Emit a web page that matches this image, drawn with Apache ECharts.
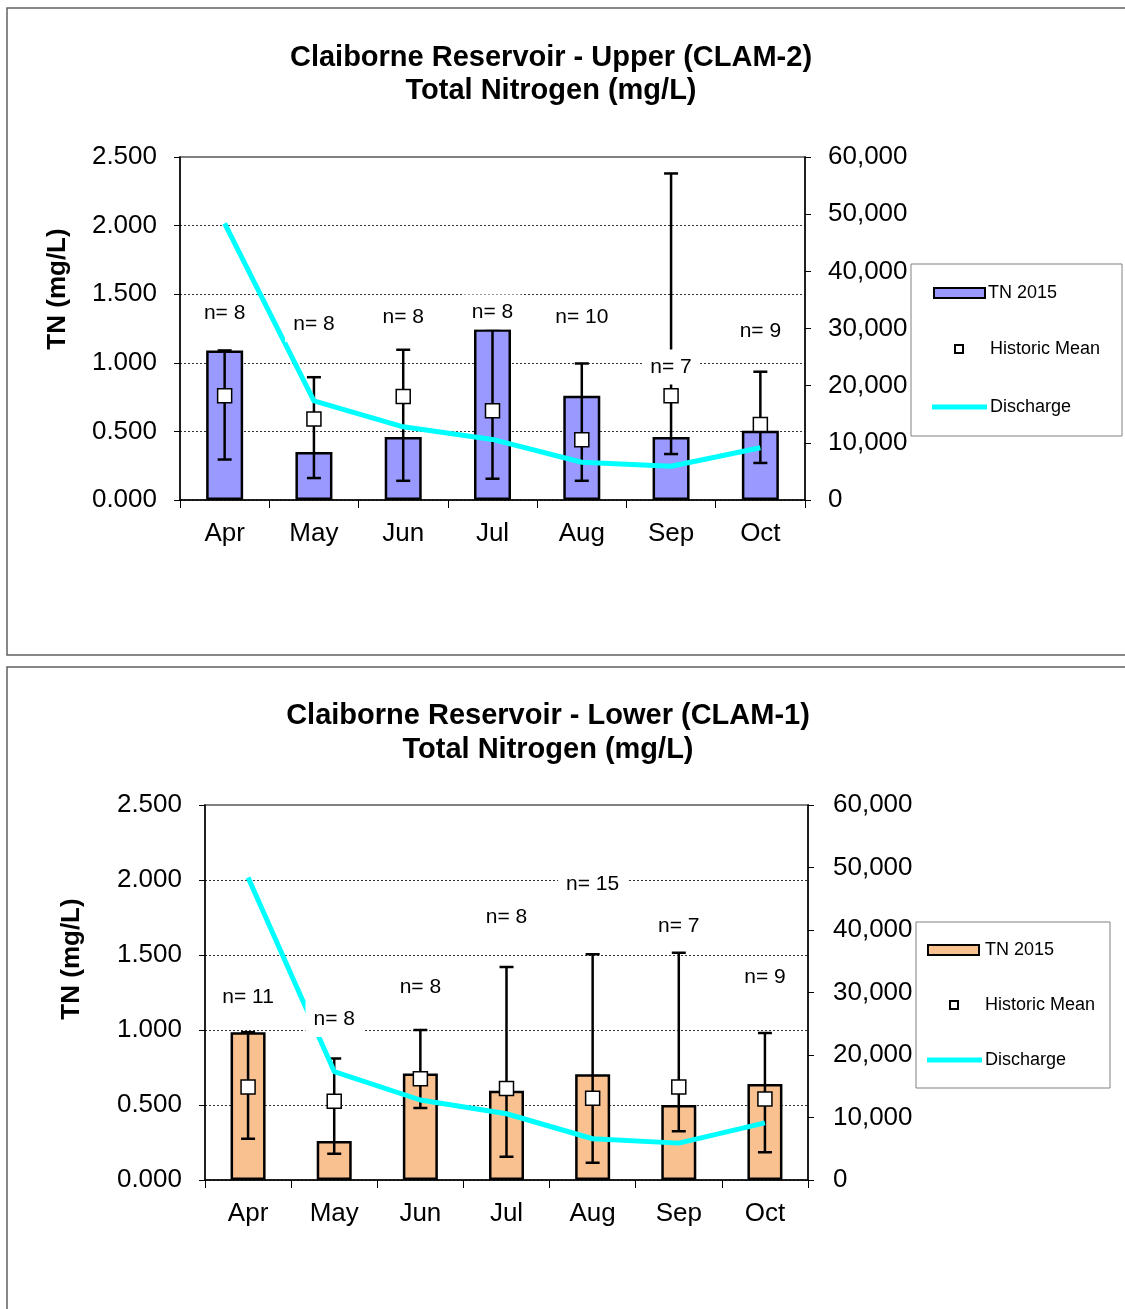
<!DOCTYPE html>
<html>
<head>
<meta charset="utf-8">
<script src="https://cdn.jsdelivr.net/npm/echarts@6/dist/echarts.min.js"></script>
<style>html,body{margin:0;padding:0;background:#fff;}#c{width:1125px;height:1309px;}</style>
</head>
<body>
<div id="c"></div>
<script>
const months = ['Apr','May','Jun','Jul','Aug','Sep','Oct'];
const discharge = [48400, 17350, 12800, 10600, 6600, 5900, 9150];

const upperTN2015 = [1.09, 0.35, 0.46, 1.245, 0.76, 0.46, 0.505];
const upperMin    = [0.295, 0.16, 0.14, 0.155, 0.14, 0.335, 0.27];
const upperMax    = [1.09, 0.895, 1.095, 1.245, 0.995, 2.38, 0.935];
const upperMean   = [0.76, 0.59, 0.755, 0.65, 0.44, 0.76, 0.55];
const upperN      = [8, 8, 8, 8, 10, 7, 9];

const lowerTN2015 = [0.985, 0.26, 0.71, 0.595, 0.705, 0.50, 0.64];
const lowerMin    = [0.275, 0.175, 0.48, 0.155, 0.115, 0.325, 0.185];
const lowerMax    = [0.985, 0.81, 1.0, 1.42, 1.505, 1.515, 0.98];
const lowerMean   = [0.62, 0.525, 0.675, 0.61, 0.545, 0.62, 0.54];
const lowerN      = [11, 8, 8, 8, 15, 7, 9];

const leftTicks = {min: 0, max: 2.5, interval: 0.5};
const rightTicks = {min: 0, max: 60000, interval: 10000};

// anchor (in mg/L) where each "n=" label sits
const upperNLabelAt = [1.36, 1.28, 1.335, 1.37, 1.335, 0.97, 1.23];
const lowerNLabelAt = [1.22, 1.07, 1.285, 1.75, 1.975, 1.695, 1.355];

const FONT = "'Liberation Sans', Arial, Helvetica, sans-serif";

function makeAxes(gi, leftMargin, rightMargin) {
  const x = {
    gridIndex: gi, type: 'category', data: months, boundaryGap: true,
    axisLine: {show: true, lineStyle: {color: '#000', width: 1.5}},
    axisTick: {show: true, length: 8, interval: 0, lineStyle: {color: '#000', width: 1}},
    axisLabel: {color: '#000', fontSize: 26, fontFamily: FONT, margin: 21, interval: 0},
    splitLine: {show: false}
  };
  const yl = {
    gridIndex: gi, type: 'value', position: 'left',
    min: leftTicks.min, max: leftTicks.max, interval: leftTicks.interval,
    axisLine: {show: true, lineStyle: {color: '#000', width: 1.5}},
    axisTick: {show: true, length: 6, lineStyle: {color: '#000', width: 1}},
    axisLabel: {color: '#000', fontSize: 26, fontFamily: FONT, margin: leftMargin,
      formatter: v => v.toFixed(3)},
    splitLine: {show: true, showMaxLine: false, lineStyle: {color: '#333', width: 1, type: [2, 2]}}
  };
  const yr = {
    gridIndex: gi, type: 'value', position: 'right',
    min: rightTicks.min, max: rightTicks.max, interval: rightTicks.interval,
    axisLine: {show: true, lineStyle: {color: '#000', width: 1.5}},
    axisTick: {show: true, length: 6, lineStyle: {color: '#000', width: 1}},
    axisLabel: {color: '#000', fontSize: 26, fontFamily: FONT, margin: rightMargin,
      formatter: v => v.toLocaleString('en-US')},
    splitLine: {show: false}
  };
  return {x, yl, yr};
}

function makeSeries(gi, tn, mn, mx, mean, nArr, nAt, color, barW) {
  const xi = gi, yLeft = gi * 2, yRight = gi * 2 + 1;
  return [
    {
      type: 'bar', name: 'TN 2015', xAxisIndex: xi, yAxisIndex: yLeft,
      data: tn, barWidth: barW, z: 2,
      itemStyle: {color: color, borderColor: '#000', borderWidth: 2.5}
    },
    {
      type: 'custom', name: 'range', xAxisIndex: xi, yAxisIndex: yLeft, z: 3,
      data: months.map((m, i) => [i, mn[i], mx[i]]),
      renderItem: function (params, api) {
        const i = api.value(0);
        const lo = api.coord([i, api.value(1)]);
        const hi = api.coord([i, api.value(2)]);
        const h = 7;
        const st = {stroke: '#000', lineWidth: 2.5};
        return {type: 'group', children: [
          {type: 'line', shape: {x1: lo[0], y1: lo[1], x2: hi[0], y2: hi[1]}, style: st},
          {type: 'line', shape: {x1: hi[0] - h, y1: hi[1], x2: hi[0] + h, y2: hi[1]}, style: st},
          {type: 'line', shape: {x1: lo[0] - h, y1: lo[1], x2: lo[0] + h, y2: lo[1]}, style: st}
        ]};
      }
    },
    {
      type: 'line', name: 'Discharge', xAxisIndex: xi, yAxisIndex: yRight, z: 4,
      data: discharge, symbol: 'none', smooth: false,
      lineStyle: {color: '#00FFFF', width: 5}
    },
    {
      type: 'scatter', name: 'Historic Mean', xAxisIndex: xi, yAxisIndex: yLeft, z: 5,
      data: mean, symbol: 'rect', symbolSize: 14,
      itemStyle: {color: '#fff', borderColor: '#000', borderWidth: 1.5, opacity: 1}
    },
    {
      type: 'custom', name: 'n', xAxisIndex: xi, yAxisIndex: yLeft, z: 6,
      data: months.map((m, i) => [i, nAt[i], nArr[i]]),
      renderItem: function (params, api) {
        const p = api.coord([api.value(0), api.value(1)]);
        return {type: 'text', x: p[0], y: p[1], style: {
          text: 'n= ' + api.value(2), fill: '#000', font: '21px ' + FONT,
          align: 'center', verticalAlign: 'middle',
          backgroundColor: '#fff', padding: [7, 8]
        }};
      }
    }
  ];
}

function legendGraphics(box, color) {
  return [
    {type: 'rect', shape: {x: box.x, y: box.y, width: box.w, height: box.h},
      style: {fill: '#fff', stroke: '#808080', lineWidth: 1}, z: 10},
    {type: 'rect', shape: {x: box.sx, y: box.r1 - 5, width: 51, height: 10},
      style: {fill: color, stroke: '#000', lineWidth: 2}, z: 11},
    {type: 'text', x: box.tx, y: box.r1, style: {text: 'TN 2015', font: '18px ' + FONT,
      fill: '#000', align: 'left', verticalAlign: 'middle'}, z: 11},
    {type: 'rect', shape: {x: box.mx - 4, y: box.r2 - 4, width: 8, height: 8},
      style: {fill: '#fff', stroke: '#000', lineWidth: 2}, z: 11},
    {type: 'text', x: box.tx2, y: box.r2, style: {text: 'Historic Mean', font: '18px ' + FONT,
      fill: '#000', align: 'left', verticalAlign: 'middle'}, z: 11},
    {type: 'line', shape: {x1: box.lx1, y1: box.r3, x2: box.lx2, y2: box.r3},
      style: {stroke: '#00FFFF', lineWidth: 5}, z: 11},
    {type: 'text', x: box.tx2, y: box.r3, style: {text: 'Discharge', font: '18px ' + FONT,
      fill: '#000', align: 'left', verticalAlign: 'middle'}, z: 11}
  ];
}

const a0 = makeAxes(0, 23, 23);
const a1 = makeAxes(1, 23, 25);

const option = {
  animation: false,
  backgroundColor: '#fff',
  grid: [
    {left: 180, top: 157, width: 625, height: 343, show: true, borderColor: '#808080', borderWidth: 2, backgroundColor: 'transparent'},
    {left: 205, top: 805, width: 603, height: 375, show: true, borderColor: '#808080', borderWidth: 2, backgroundColor: 'transparent'}
  ],
  xAxis: [a0.x, a1.x],
  yAxis: [a0.yl, a0.yr, a1.yl, a1.yr],
  series: [].concat(
    makeSeries(0, upperTN2015, upperMin, upperMax, upperMean, upperN, upperNLabelAt, '#9999FF', 37),
    makeSeries(1, lowerTN2015, lowerMin, lowerMax, lowerMean, lowerN, lowerNLabelAt, '#F9C090', 35)
  ),
  graphic: [].concat(
    [
      {type: 'rect', shape: {x: 7, y: 8, width: 1140, height: 647},
        style: {fill: 'none', stroke: '#606060', lineWidth: 1.5}, z: 0},
      {type: 'rect', shape: {x: 7, y: 667, width: 1140, height: 700},
        style: {fill: 'none', stroke: '#606060', lineWidth: 1.5}, z: 0},
      {type: 'text', x: 551, y: 58, style: {text: 'Claiborne Reservoir - Upper (CLAM-2)',
        font: 'bold 29px ' + FONT, fill: '#000', align: 'center', verticalAlign: 'middle'}},
      {type: 'text', x: 551, y: 91, style: {text: 'Total Nitrogen (mg/L)',
        font: 'bold 29px ' + FONT, fill: '#000', align: 'center', verticalAlign: 'middle'}},
      {type: 'text', x: 548, y: 716, style: {text: 'Claiborne Reservoir - Lower (CLAM-1)',
        font: 'bold 29px ' + FONT, fill: '#000', align: 'center', verticalAlign: 'middle'}},
      {type: 'text', x: 548, y: 750, style: {text: 'Total Nitrogen (mg/L)',
        font: 'bold 29px ' + FONT, fill: '#000', align: 'center', verticalAlign: 'middle'}},
      {type: 'text', x: 58, y: 289, rotation: Math.PI / 2, style: {text: 'TN (mg/L)',
        font: 'bold 26px ' + FONT, fill: '#000', align: 'center', verticalAlign: 'middle'}},
      {type: 'text', x: 72, y: 959, rotation: Math.PI / 2, style: {text: 'TN (mg/L)',
        font: 'bold 26px ' + FONT, fill: '#000', align: 'center', verticalAlign: 'middle'}}
    ],
    legendGraphics({x: 911, y: 264, w: 211, h: 172, sx: 934, r1: 293, tx: 988, mx: 959, r2: 349, tx2: 990, lx1: 932, lx2: 987, r3: 407}, '#9999FF'),
    legendGraphics({x: 916, y: 922, w: 194, h: 166, sx: 928, r1: 950, tx: 985, mx: 954, r2: 1005, tx2: 985, lx1: 927, lx2: 982, r3: 1060}, '#F9C090')
  )
};

const chart = echarts.init(document.getElementById('c'), null, {renderer: 'canvas'});
chart.setOption(option);
</script>
</body>
</html>
